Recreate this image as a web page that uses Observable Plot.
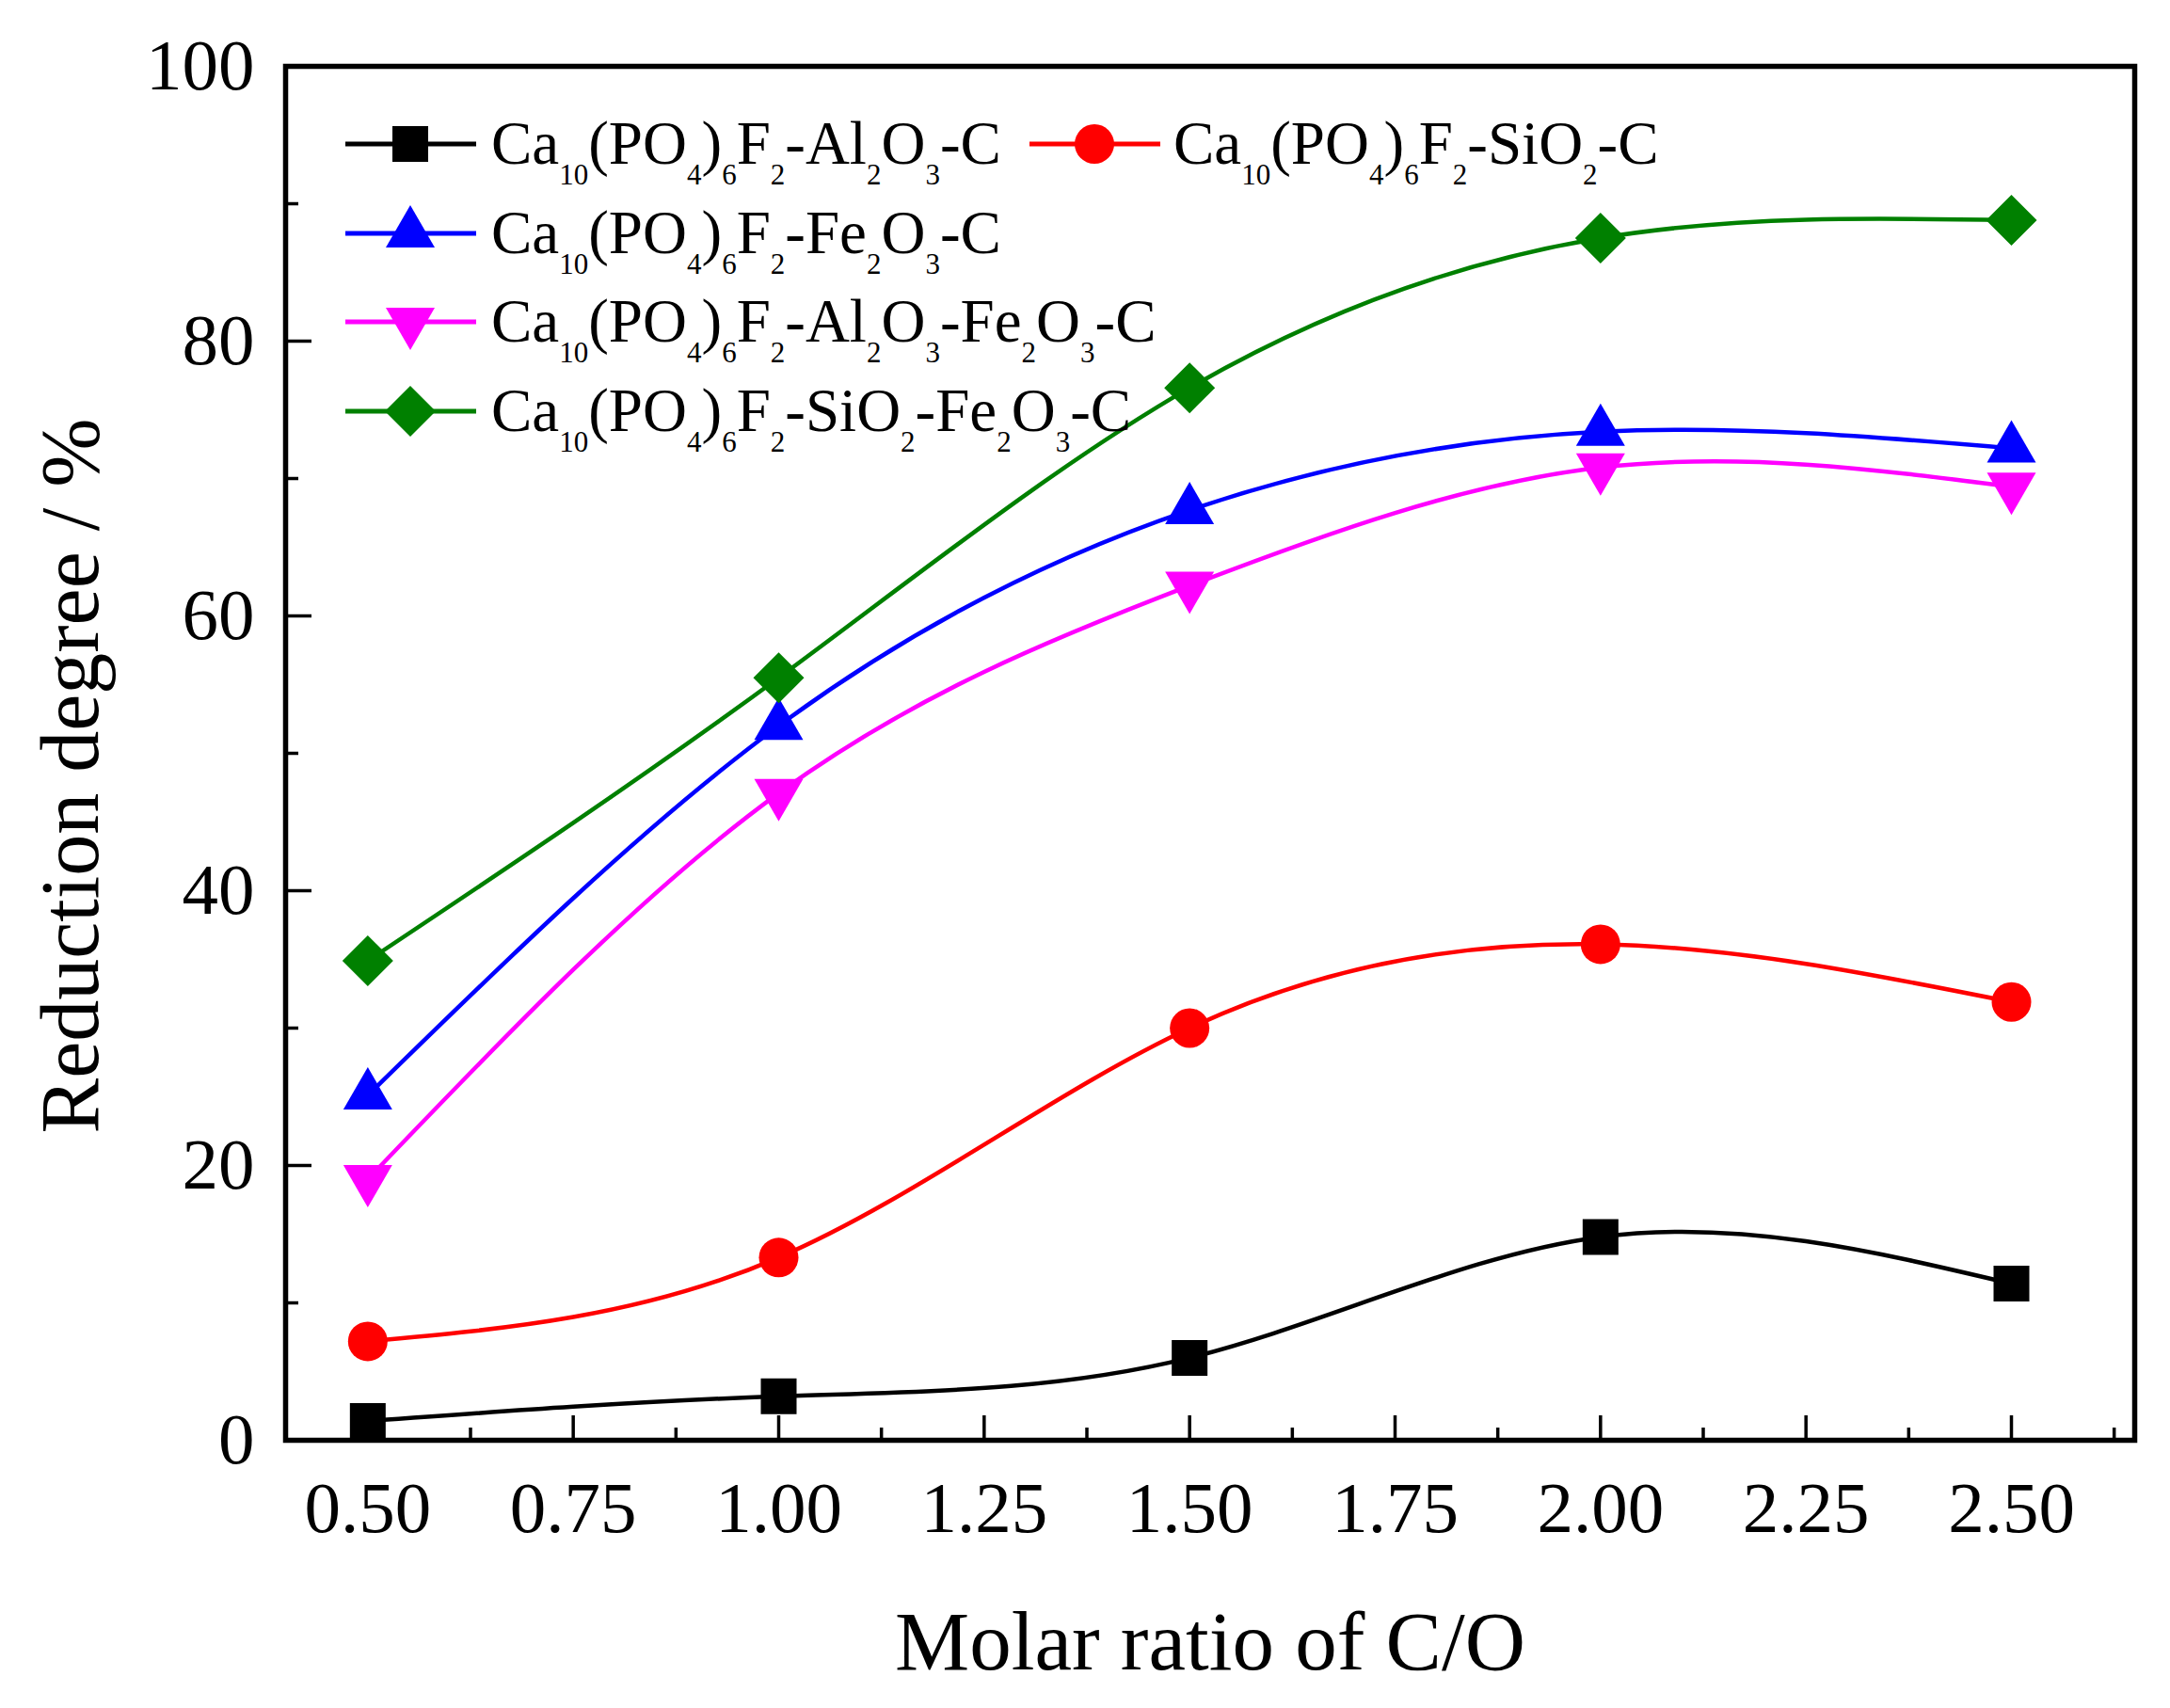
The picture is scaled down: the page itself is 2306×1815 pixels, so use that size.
<!DOCTYPE html>
<html>
<head>
<meta charset="utf-8">
<script src="https://cdn.jsdelivr.net/npm/d3@7"></script>
<script src="https://cdn.jsdelivr.net/npm/@observablehq/plot@0.6"></script>
<style>
  html, body { margin: 0; padding: 0; background: #fff; overflow: hidden; }
</style>
</head>
<body>
<div id="chart"></div>
<script>
const FONT = '"Liberation Serif", "Times New Roman", "DejaVu Serif", serif';

// ---- data ----
const ratios = [0.5, 1.0, 1.5, 2.0, 2.5];
const seriesNames = [
  "Ca_{10}(PO_{4})_{6}F_{2}-Al_{2}O_{3}-C",
  "Ca_{10}(PO_{4})_{6}F_{2}-SiO_{2}-C",
  "Ca_{10}(PO_{4})_{6}F_{2}-Fe_{2}O_{3}-C",
  "Ca_{10}(PO_{4})_{6}F_{2}-Al_{2}O_{3}-Fe_{2}O_{3}-C",
  "Ca_{10}(PO_{4})_{6}F_{2}-SiO_{2}-Fe_{2}O_{3}-C"
];
const alValues   = [1.4, 3.2, 6.0, 14.8, 11.4];
const siValues   = [7.2, 13.3, 30.0, 36.1, 31.9];
const feValues   = [25.1, 52.0, 67.7, 73.4, 72.2];
const alFeValues = [19.0, 47.1, 62.2, 70.8, 69.4];
const siFeValues = [34.9, 55.5, 76.6, 87.5, 88.8];
const seriesValues = [alValues, siValues, feValues, alFeValues, siFeValues];
const seriesColors = ["#000000", "#ff0000", "#0000ff", "#ff00ff", "#008000"];

const xMajorTicks = [0.5, 0.75, 1.0, 1.25, 1.5, 1.75, 2.0, 2.25, 2.5];
const xMinorTicks = [0.625, 0.875, 1.125, 1.375, 1.625, 1.875, 2.125, 2.375, 2.625];
const yMajorTicks = [0, 20, 40, 60, 80, 100];
const yMinorTicks = [10, 30, 50, 70, 90];
const xTitle = "Molar ratio of C/O";
const yTitle = "Reduction degree / %";

// ---- symbols ----
const symSquare = {draw(c) { c.moveTo(-19, -19); c.lineTo(19, -19); c.lineTo(19, 19); c.lineTo(-19, 19); c.closePath(); }};
const symCircle = {draw(c) { c.moveTo(21, 0); c.arc(0, 0, 21, 0, 2 * Math.PI); c.closePath(); }};
const symTriUp = {draw(c) { c.moveTo(0, -30); c.lineTo(26, 15); c.lineTo(-26, 15); c.closePath(); }};
const symTriDown = {draw(c) { c.moveTo(0, 30); c.lineTo(26, -15); c.lineTo(-26, -15); c.closePath(); }};
const symDiamond = {draw(c) { c.moveTo(0, -27); c.lineTo(27, 0); c.lineTo(0, 27); c.lineTo(-27, 0); c.closePath(); }};
const seriesSymbols = [symSquare, symCircle, symTriUp, symTriDown, symDiamond];

const rows = seriesValues.map((vals, i) => ratios.map((r, j) => ({x: r, y: vals[j], s: i})));

const seriesMarks = [];
rows.forEach((data, i) => {
  seriesMarks.push(Plot.line(data, {x: "x", y: "y", stroke: seriesColors[i], strokeWidth: 4.5, curve: "natural"}));
  seriesMarks.push(Plot.dot(data, {x: "x", y: "y", symbol: seriesSymbols[i], fill: seriesColors[i], stroke: "none", r: 20}));
});

const W = 2306, H = 1815;
const mL = 303, mT = 70, mR = 38, mB = 285;

const plot = Plot.plot({
  width: W,
  height: H,
  marginLeft: mL,
  marginTop: mT,
  marginRight: mR,
  marginBottom: mB,
  style: {fontFamily: FONT, background: "#fff", color: "#000", overflow: "visible"},
  x: {domain: [0.4, 2.65]},
  y: {domain: [0, 100]},
  marks: [
    // inward ticks
    Plot.axisX(xMajorTicks, {tickSize: 26, dy: -26, fill: "none", strokeWidth: 3.5, label: null}),
    Plot.axisX(xMinorTicks, {tickSize: 13, dy: -13, fill: "none", strokeWidth: 3.5, label: null}),
    Plot.axisY(yMajorTicks, {tickSize: 28, dx: 28, fill: "none", strokeWidth: 3.5, label: null}),
    Plot.axisY(yMinorTicks, {tickSize: 14, dx: 14, fill: "none", strokeWidth: 3.5, label: null}),
    // tick labels
    Plot.axisX(xMajorTicks, {tickSize: 0, tickPadding: 43, fontSize: 77, tickFormat: d => d.toFixed(2), label: null}),
    Plot.axisY(yMajorTicks, {tickSize: 0, tickPadding: 33, fontSize: 77, tickFormat: d => String(d), label: null}),
    ...seriesMarks,
    Plot.frame({stroke: "#000", strokeWidth: 5.5}),
    // axis titles
    Plot.text([xTitle], {text: d => d, frameAnchor: "bottom", textAnchor: "middle", lineAnchor: "bottom", dy: 243, fontSize: 89, fill: "#000"}),
    Plot.text([yTitle], {text: d => d, frameAnchor: "left", textAnchor: "middle", lineAnchor: "bottom", rotate: -90, dx: -200, dy: 24, fontSize: 88, fill: "#000"})
  ]
});

document.getElementById("chart").appendChild(plot);

// ---- legend (with subscripts) ----
const legendSlots = [
  {row: 153, col: 0}, {row: 153, col: 1}, {row: 248, col: 0}, {row: 342, col: 0}, {row: 437, col: 0}
];
const legendCols = [
  {x1: 367, x2: 506, mx: 436, tx: 522},
  {x1: 1094, x2: 1233, mx: 1163, tx: 1247}
];
function parseName(name) {
  const parts = [];
  const re = /_\{([^}]*)\}|([^_]+)/g;
  let m;
  while ((m = re.exec(name)) !== null) {
    if (m[1] !== undefined) parts.push({t: m[1], sub: true});
    else parts.push({t: m[2], sub: false});
  }
  return parts;
}
const svg = d3.select(plot);
const lg = svg.append("g").attr("class", "legend").attr("font-family", FONT).attr("text-anchor", "start");
seriesNames.forEach((name, i) => {
  const slot = legendSlots[i];
  const col = legendCols[slot.col];
  const y = slot.row;
  lg.append("line")
    .attr("x1", col.x1).attr("x2", col.x2).attr("y1", y).attr("y2", y)
    .attr("stroke", seriesColors[i]).attr("stroke-width", 5);
  const p = d3.path();
  seriesSymbols[i].draw(p, 0);
  lg.append("path")
    .attr("d", p.toString())
    .attr("transform", `translate(${col.mx},${y})`)
    .attr("fill", seriesColors[i]);
  const t = lg.append("text")
    .attr("x", col.tx).attr("y", y + 21)
    .attr("text-anchor", "start")
    .attr("font-size", 65).attr("fill", "#000");
  let shift = 0;
  parseName(name).forEach(part => {
    const target = part.sub ? 22 : 0;
    t.append("tspan")
      .attr("dy", target - shift)
      .attr("font-size", part.sub ? 31 : 65)
      .text(part.t);
    shift = target;
  });
});
</script>
</body>
</html>
